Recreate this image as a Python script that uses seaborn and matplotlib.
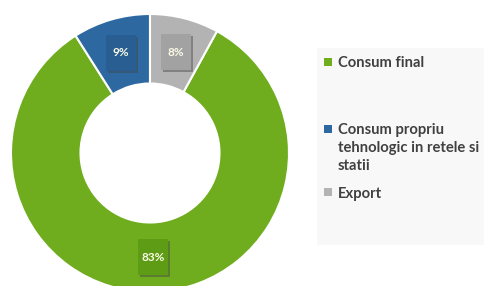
import matplotlib
matplotlib.use("Agg")
import matplotlib.pyplot as plt
import matplotlib.patheffects as pe
from matplotlib.patches import Rectangle
import seaborn as sns

sns.set_theme(style="white")
plt.rcParams['font.family'] = ['Lato', 'DejaVu Sans']

# data
categories = ["Consum final", "Consum propriu tehnologic in retele si statii", "Export"]
legend_labels = ["Consum final", "Consum propriu\ntehnologic in retele si\nstatii", "Export"]
values = [83, 9, 8]
colors = ["#6fad1e", "#2d69a0", "#b3b3b3"]
box_colors = ["#5f9c16", "#285e91", "#a2a2a2"]

fig = plt.figure(figsize=(4.84, 2.86), dpi=100)
fig.patch.set_facecolor("white")

# donut axes: centre ~ (150, 153) px, radius ~139 px
W, H = 484, 286
cx, cy, R = 150, 153, 139
ax = fig.add_axes([(cx - R) / W, (H - cy - R) / H, 2 * R / W, 2 * R / H])

start = 90 - values[2] / sum(values) * 360
wedges, texts, autotexts = ax.pie(
    values, colors=colors, startangle=start, counterclock=False,
    radius=1, autopct="%1.0f%%", pctdistance=0.75,
    wedgeprops=dict(width=0.5, edgecolor="white", linewidth=1.5),
    textprops=dict(color="#fbfbe6", fontsize=8.5, fontweight="bold", zorder=5),
)
ax.set_xlim(-1, 1)
ax.set_ylim(-1, 1)
ax.set_aspect("equal")
ax.axis("off")

# label boxes (about 30 x 36 px), slightly taller than wide, with a soft shadow
bw, bh = 30 / R, 36 / R
for t, bc in zip(autotexts, box_colors):
    x, y = t.get_position()
    box = Rectangle((x - bw / 2, y - bh / 2), bw, bh, facecolor=bc,
                    edgecolor="none", zorder=4)
    box.set_path_effects([pe.withSimplePatchShadow(offset=(1.5, -1.5),
                                                   shadow_rgbFace="#444444", alpha=0.45)])
    ax.add_patch(box)

# legend panel
fig.patches.append(Rectangle((317 / W, 1 - 245 / H), (W - 317) / W, (245 - 48) / H,
                             transform=fig.transFigure, facecolor="#f8f8f8",
                             edgecolor="none", zorder=0))
marker_y = [62, 129, 192]
baseline_y = [67, 170, 198]  # baseline of the last line of each entry
for lab, col, my, by in zip(legend_labels, colors, marker_y, baseline_y):
    fig.patches.append(Rectangle((324 / W, 1 - (my + 4) / H), 8 / W, 8 / H,
                                 transform=fig.transFigure, facecolor=col,
                                 edgecolor="none"))
    fig.text(338 / W, 1 - by / H, lab, ha="left", va="baseline", fontsize=10.6,
             fontweight="bold", color="#404040", linespacing=1.37)

fig.savefig("out.png", dpi=100)
